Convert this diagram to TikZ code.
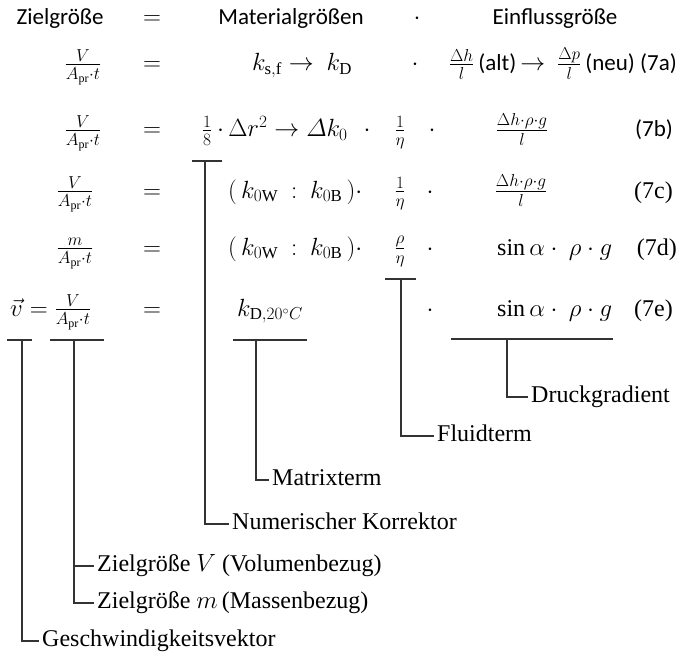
\documentclass[tikz,border=0pt]{standalone}
\usepackage{amsmath}
\usepackage{fontspec}
\setmainfont{Liberation Serif}
\newfontfamily\calibri{Carlito}
\begin{document}
\begin{tikzpicture}[x=1pt,y=-1pt,
  hd/.style={font=\calibri\fontsize{23}{27}\selectfont, inner sep=0pt, anchor=base},
  mth/.style={font=\fontsize{24}{28}\selectfont, inner sep=0pt, anchor=base},
  srf/.style={font=\fontsize{24}{28}\selectfont, inner sep=0pt, anchor=base east},
  lab/.style={font=\fontsize{24}{28}\selectfont, inner sep=3pt, anchor=west, text height=16pt, text depth=5pt},
  ln/.style={line width=1.2pt, draw=black!80}]
\useasboundingbox (0,0) rectangle (679,663);
% header
\node[hd] (hz) at (60,25) {Zielgröße};
\node[hd] (heq) at (152,25) {$=$};
\node[hd] (hmat) at (291,25) {Materialgrößen};
\node[hd] (hdot) at (417,25) {$\cdot$};
\node[hd] (hein) at (555,25) {Einflussgröße};
% 7a
\node[mth] (f7a) at (83,71) {$\frac{V}{A_{\mathrm{pr}}\cdot t}$};
\node[mth] (e7a) at (152,71) {$=$};
\node[mth] (m7a) at (302,71) {$k_{\mathrm{s,f}}\rightarrow\ k_{\mathrm{D}}$};
\node[mth] (d7a) at (415,71) {$\cdot$};
\node[mth, anchor=base east] (r7a) at (677,71) {$\frac{\Delta h}{l}$\,{\calibri\fontsize{23}{27}\selectfont (alt)}\,$\rightarrow$\ \ $\frac{\Delta p}{l}$\,{\calibri\fontsize{23}{27}\selectfont (neu) (7a)}};
% 7b
\node[mth] (f7b) at (83,137) {$\frac{V}{A_{\mathrm{pr}}\cdot t}$};
\node[mth] (e7b) at (152,137) {$=$};
\node[mth] (k7b) at (207,137) {$\frac{1}{8}$};
\node[mth, anchor=base west] (m7b) at (217,137) {$\cdot\,\Delta r^2\rightarrow\varDelta k_0$};
\node[mth] (d7b) at (367,137) {$\cdot$};
\node[mth] (fl7b) at (400,137) {$\frac{1}{\eta}$};
\node[mth] (dd7b) at (432,137) {$\cdot$};
\node[mth] (p7b) at (522,137) {$\frac{\Delta h\cdot\rho\cdot g}{l}$};
\node[hd, anchor=base east] (n7b) at (673,137) {(7b)};
% 7c
\node[mth] (f7c) at (75,198) {$\frac{V}{A_{\mathrm{pr}}\cdot t}$};
\node[mth] (e7c) at (152,198) {$=$};
\node[mth, anchor=base west] (m7c) at (228,198) {$(\,k_{0\mathrm{W}}\ :\ k_{0\mathrm{B}}\,)\cdot$};
\node[mth] (fl7c) at (400,198) {$\frac{1}{\eta}$};
\node[mth] (d7c) at (430,198) {$\cdot$};
\node[mth] (p7c) at (521,198) {$\frac{\Delta h\cdot\rho\cdot g}{l}$};
\node[srf] (n7c) at (673,198) {(7c)};
% 7d
\node[mth] (f7d) at (75,255) {$\frac{m}{A_{\mathrm{pr}}\cdot t}$};
\node[mth] (e7d) at (152,255) {$=$};
\node[mth, anchor=base west] (m7d) at (228,255) {$(\,k_{0\mathrm{W}}\ :\ k_{0\mathrm{B}}\,)\cdot$};
\node[mth] (fl7d) at (400,255) {$\frac{\rho}{\eta}$};
\node[mth] (d7d) at (430,255) {$\cdot$};
\node[mth, anchor=base west] (p7d) at (497,255) {$\sin\alpha\cdot\ \rho\cdot g$};
\node[srf] (n7d) at (677,255) {(7d)};
% 7e
\node[mth, anchor=base west] (f7e) at (10,316) {$\vec{v}=\frac{V}{A_{\mathrm{pr}}\cdot t}$};
\node[mth] (e7e) at (152,316) {$=$};
\node[mth] (m7e) at (270,316) {$k_{\mathrm{D},20^{\circ}C}$};
\node[mth] (d7e) at (430,316) {$\cdot$};
\node[mth, anchor=base west] (p7e) at (497,316) {$\sin\alpha\cdot\ \rho\cdot g$};
\node[srf] (n7e) at (673,316) {(7e)};
% annotation bars
\coordinate (a1) at (7,340); \coordinate (a2) at (32,340); \coordinate (a0) at (22,340);
\coordinate (b1) at (50,340); \coordinate (b2) at (104,340); \coordinate (b0) at (74,340);
\coordinate (c1) at (192,161); \coordinate (c2) at (222,161); \coordinate (c0) at (205,161);
\coordinate (d1) at (233,340); \coordinate (d2) at (307,340); \coordinate (d0) at (256,340);
\coordinate (e1) at (385,279); \coordinate (e2) at (416,279); \coordinate (e0) at (401,279);
\coordinate (g1) at (451,339); \coordinate (g2) at (613,339); \coordinate (g0) at (507,339);
% labels
\node[lab] (lg) at (39,641) {Geschwindigkeitsvektor};
\node[lab] (lv) at (94,566) {Zielgröße $V$ (Volumenbezug)};
\node[lab] (lm) at (94,603) {Zielgröße $m$\,(Massenbezug)};
\node[lab] (lk) at (229,524) {Numerischer Korrektor};
\node[lab] (lmx) at (269,480) {Matrixterm};
\node[lab] (lf) at (434,436) {Fluidterm};
\node[lab] (ld) at (528,397) {Druckgradient};
% connectors
\draw[ln] (a1) -- (a2); \draw[ln] (a0) |- (lg.west);
\draw[ln] (b1) -- (b2); \draw[ln] (b0) |- (lm.west); \draw[ln] (b0 |- lv.west) -- (lv.west);
\draw[ln] (c1) -- (c2); \draw[ln] (c0) |- (lk.west);
\draw[ln] (d1) -- (d2); \draw[ln] (d0) |- (lmx.west);
\draw[ln] (e1) -- (e2); \draw[ln] (e0) |- (lf.west);
\draw[ln] (g1) -- (g2); \draw[ln] (g0) |- (ld.west);
\end{tikzpicture}
\end{document}
